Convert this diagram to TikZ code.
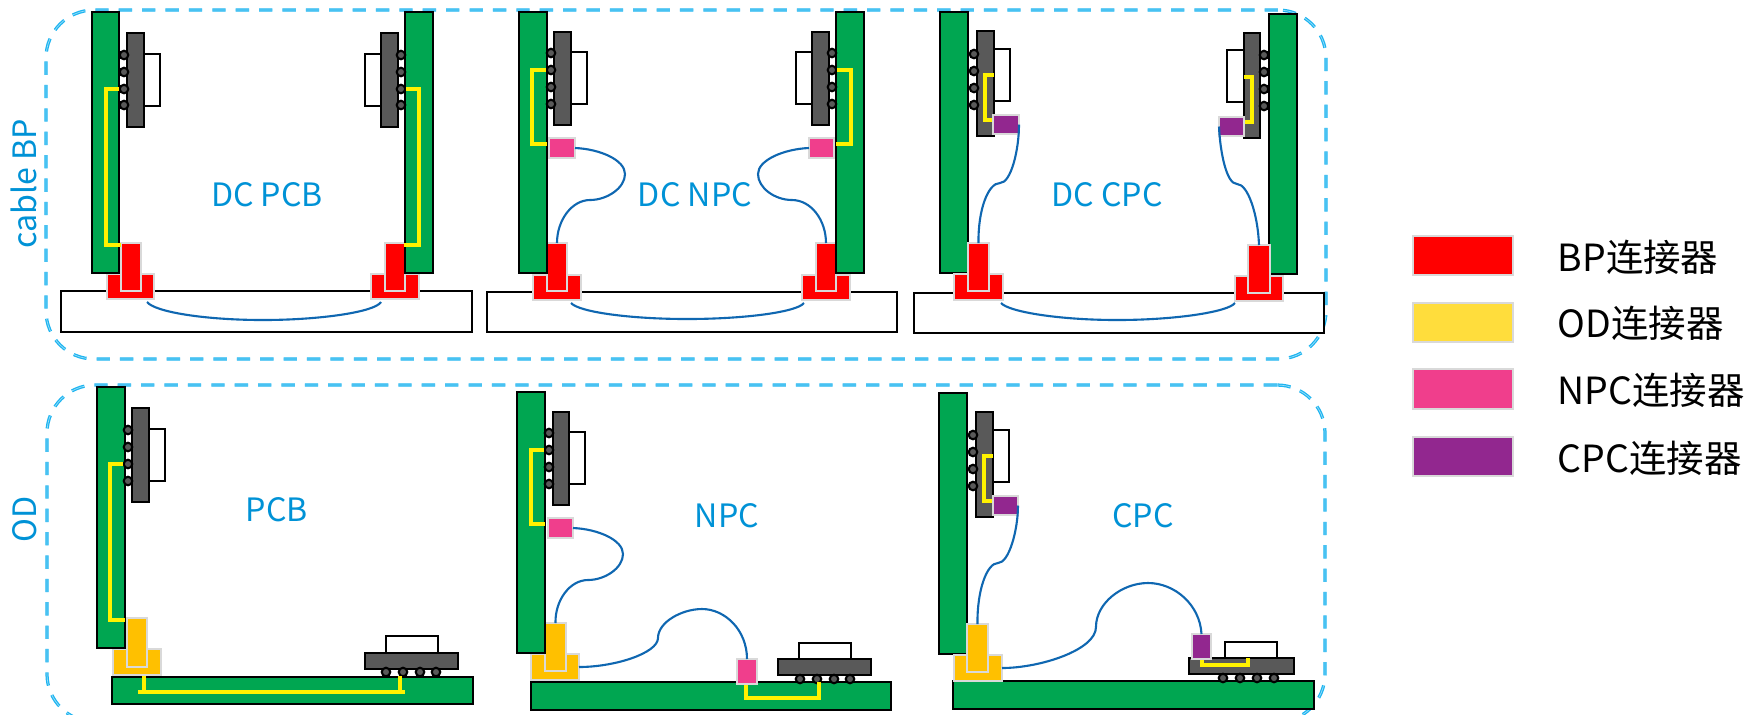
\documentclass[tikz,border=0pt]{standalone}
\usepackage{fontspec}
\setmainfont{Noto Sans CJK SC}
\usetikzlibrary{fit}
\definecolor{boardgreen}{HTML}{00A651}
\definecolor{chipgray}{HTML}{595959}
\definecolor{edgegray}{HTML}{D9D9D9}
\definecolor{bpred}{HTML}{FF0000}
\definecolor{odorange}{HTML}{FFC000}
\definecolor{odyellow}{HTML}{FFDD3C}
\definecolor{npcpink}{HTML}{F03E8C}
\definecolor{cpcpurple}{HTML}{92278F}
\definecolor{cableblue}{HTML}{0F67B1}
\definecolor{textblue}{HTML}{0092D6}
\definecolor{frameblue}{HTML}{1DB4F0}
\tikzset{
  block/.style={draw,inner sep=0pt,outer sep=0pt,line width=.6pt},
  board/.style={block,fill=boardgreen},
  backplane/.style={block,fill=white},
  chip/.style={block,fill=chipgray},
  die/.style={block,fill=white},
  ball/.style={circle,draw,fill=chipgray,inner sep=0pt,minimum size=.085cm,line width=.6pt},
  conn/.style={block,draw=edgegray},
  bpconn/.style={conn,fill=bpred},
  odconn/.style={conn,fill=odorange},
  odlegend/.style={conn,fill=odyellow},
  npcconn/.style={conn,fill=npcpink},
  cpcconn/.style={conn,fill=cpcpurple},
  cable/.style={draw=cableblue,line width=.6pt},
  trace/.style={draw=yellow,line width=1.05pt},
  frame/.style={draw=frameblue,inner sep=0pt,line width=.36pt,double=frameblue!45,double distance=.2pt,dash pattern=on 3.8pt off 2.85pt,rounded corners=.48cm},
  panellabel/.style={text=textblue,font=\fontsize{9.15}{11}\selectfont,inner sep=0pt},
  legendtext/.style={anchor=west,text=black,font=\fontsize{10.65}{13}\selectfont,inner sep=0pt}
}
\begin{document}
\begin{tikzpicture}[x=.01cm,y=-.01cm]
\clip (0,0) rectangle (1750,714);
\useasboundingbox (0,0) rectangle (1750,714);
\node[frame,fit={(46,10) (1326,359)}] (frameBP) {};
\node[frame,fit={(47,385) (1325,722)}] (frameOD) {};
\node[panellabel,rotate=90] (labelBP) at (24,184) {cable BP};
\node[panellabel,rotate=90] (labelOD) at (25,519) {OD};

\node[backplane,fit={(61,291) (472,332)}] (planeA) {};
\node[bpconn,fit={(107,274) (154,299)}] (baseAL) {};
\node[bpconn,fit={(121,243) (141,291)}] (stemAL) {};
\node[bpconn,fit={(371,274) (419,299)}] (baseAR) {};
\node[bpconn,fit={(385,243) (405,291)}] (stemAR) {};
\node[board,fit={(92,12) (119,273)}] (boardAL) {};
\node[board,fit={(405,12) (433,273)}] (boardAR) {};
\node[die,fit={(144,54) (160,106)}] (dieAL) {};
\node[chip,fit={(127,33) (144,127)}] (chipAL) {};
\node[die,fit={(365,54) (381,106)}] (dieAR) {};
\node[chip,fit={(381,33) (398,127)}] (chipAR) {};
\coordinate (padAL) at (121,245);
\coordinate (padAR) at (404,245);
\node[ball] (ballAL1) at (124,55) {}; \node[ball] (ballAL2) at (124,72) {}; \node[ball] (ballAL3) at (124,89) {}; \node[ball] (ballAL4) at (124,105) {};
\node[ball] (ballAR1) at (401,55) {}; \node[ball] (ballAR2) at (401,72) {}; \node[ball] (ballAR3) at (401,89) {}; \node[ball] (ballAR4) at (401,105) {};
\draw[trace] (ballAL3.west) -- (106,89) -- (106,245) -- (padAL);
\draw[trace] (ballAR3.east) -- (419,89) -- (419,245) -- (padAR);
\coordinate (pinAL) at (147,302);
\coordinate (pinAR) at (381,302);
\draw[cable] (pinAL) .. controls (155,312) and (205,320) .. (263,320) .. controls (320,320) and (375,312) .. (pinAR);
\node[panellabel] (textA) at (267,195) {DC PCB};

\node[backplane,fit={(487,292) (897,332)}] (planeB) {};
\node[bpconn,fit={(533,275) (581,300)}] (baseBL) {};
\node[bpconn,fit={(547,243) (567,291)}] (stemBL) {};
\node[bpconn,fit={(802,275) (850,300)}] (baseBR) {};
\node[bpconn,fit={(816,243) (836,291)}] (stemBR) {};
\node[board,fit={(519,12) (547,273)}] (boardBL) {};
\node[board,fit={(836,12) (864,273)}] (boardBR) {};
\node[die,fit={(571,52) (587,104)}] (dieBL) {};
\node[chip,fit={(554,32) (571,125)}] (chipBL) {};
\node[die,fit={(796,52) (812,104)}] (dieBR) {};
\node[chip,fit={(812,32) (829,125)}] (chipBR) {};
\node[ball] (ballBL1) at (551,53) {}; \node[ball] (ballBL2) at (551,70) {}; \node[ball] (ballBL3) at (551,87) {}; \node[ball] (ballBL4) at (551,104) {};
\node[ball] (ballBR1) at (832,53) {}; \node[ball] (ballBR2) at (832,70) {}; \node[ball] (ballBR3) at (832,87) {}; \node[ball] (ballBR4) at (832,104) {};
\node[npcconn,fit={(549,138) (575,158)}] (npcBL) {};
\node[npcconn,fit={(809,138) (834,158)}] (npcBR) {};
\coordinate (padBL) at (547,144);
\coordinate (padBR) at (836,144);
\draw[trace] (ballBL2.west) -- (532,70) -- (532,144) -- (padBL);
\draw[trace] (ballBR2.east) -- (851,70) -- (851,144) -- (padBR);
\draw[cable] (npcBL.east) .. controls (600,149) and (625,160) .. (625,174) .. controls (625,188) and (607,200) .. (590,200) .. controls (572,200) and (557,220) .. (stemBL.north);
\draw[cable] (npcBR.west) .. controls (784,149) and (758,160) .. (758,174) .. controls (758,188) and (775,200) .. (792,200) .. controls (811,200) and (826,220) .. (stemBR.north);
\coordinate (pinBL) at (571,303);
\coordinate (pinBR) at (804,303);
\draw[cable] (pinBL) .. controls (579,312) and (630,319) .. (687,319) .. controls (745,319) and (797,312) .. (pinBR);
\node[panellabel] (textB) at (695,195) {DC NPC};

\node[backplane,fit={(914,293) (1324,333)}] (planeC) {};
\node[board,fit={(940,12) (968,273)}] (boardCL) {};
\node[board,fit={(1269,14) (1297,274)}] (boardCR) {};
\node[bpconn,fit={(954,274) (1003,300)}] (baseCL) {};
\node[bpconn,fit={(968,243) (989,291)}] (stemCL) {};
\node[bpconn,fit={(1235,276) (1283,301)}] (baseCR) {};
\node[bpconn,fit={(1248,245) (1270,293)}] (stemCR) {};
\node[die,fit={(994,49) (1010,101)}] (dieCL) {};
\node[chip,fit={(977,31) (994,136)}] (chipCL) {};
\node[die,fit={(1227,50) (1244,102)}] (dieCR) {};
\node[chip,fit={(1244,33) (1260,138)}] (chipCR) {};
\node[ball] (ballCL1) at (974,54) {}; \node[ball] (ballCL2) at (974,71) {}; \node[ball] (ballCL3) at (974,88) {}; \node[ball] (ballCL4) at (974,105) {};
\node[ball] (ballCR1) at (1264,55) {}; \node[ball] (ballCR2) at (1264,72) {}; \node[ball] (ballCR3) at (1264,89) {}; \node[ball] (ballCR4) at (1264,106) {};
\coordinate (padCL1) at (994,75);
\coordinate (padCL2) at (994,120);
\coordinate (padCR1) at (1244,77);
\coordinate (padCR2) at (1244,122);
\draw[trace] (padCL1) -- (985,75) -- (985,120) -- (padCL2);
\draw[trace] (padCR1) -- (1252,77) -- (1252,122) -- (padCR2);
\node[cpcconn,fit={(993,115) (1019,134)}] (cpcCL) {};
\node[cpcconn,fit={(1219,117) (1244,136)}] (cpcCR) {};
\draw[cable] (cpcCL.east) .. controls (1019,150) and (1011,183) .. (1000,183) .. controls (988,183) and (978,210) .. (stemCL.north);
\draw[cable] (cpcCR.west) .. controls (1220,150) and (1226,184) .. (1237,184) .. controls (1248,184) and (1258,215) .. (stemCR.north);
\coordinate (pinCL) at (1001,303);
\coordinate (pinCR) at (1235,303);
\draw[cable] (pinCL) .. controls (1009,312) and (1060,320) .. (1117,320) .. controls (1175,320) and (1228,312) .. (pinCR);
\node[panellabel] (textC) at (1107,195) {DC CPC};

\node[odconn,fit={(113,649) (161,675)}] (baseD) {};
\node[odconn,fit={(127,618) (147,667)}] (stemD) {};
\node[board,fit={(97,387) (125,648)}] (boardDV) {};
\node[board,fit={(112,677) (473,704)}] (boardDH) {};
\node[die,fit={(149,429) (165,481)}] (dieDV) {};
\node[chip,fit={(132,408) (149,502)}] (chipDV) {};
\node[ball] (ballDV1) at (128,430) {}; \node[ball] (ballDV2) at (128,447) {}; \node[ball] (ballDV3) at (128,464) {}; \node[ball] (ballDV4) at (128,481) {};
\node[die,fit={(386,636) (438,653)}] (dieDH) {};
\node[chip,fit={(365,653) (458,669)}] (chipDH) {};
\node[ball] (ballDH1) at (386,672) {}; \node[ball] (ballDH2) at (403,672) {}; \node[ball] (ballDH3) at (420,672) {}; \node[ball] (ballDH4) at (436,672) {};
\coordinate (padD) at (125,620);
\coordinate (padDH1) at (144,676);
\coordinate (padDH2) at (400,676);
\draw[trace] (ballDV3.west) -- (110,464) -- (110,620) -- (padD);
\draw[trace] (padDH1) -- (144,692);
\draw[trace] (padDH2) -- (400,692);
\draw[trace] (138,692) -- (405,692);
\node[panellabel] (textD) at (277,510) {PCB};

\node[odconn,fit={(531,654) (579,680)}] (baseE) {};
\node[odconn,fit={(545,623) (566,671)}] (stemE) {};
\node[board,fit={(517,392) (545,653)}] (boardEV) {};
\node[board,fit={(531,682) (891,710)}] (boardEH) {};
\node[die,fit={(569,432) (585,484)}] (dieEV) {};
\node[chip,fit={(553,412) (569,505)}] (chipEV) {};
\node[ball] (ballEV1) at (549,433) {}; \node[ball] (ballEV2) at (549,450) {}; \node[ball] (ballEV3) at (549,467) {}; \node[ball] (ballEV4) at (549,484) {};
\node[die,fit={(799,643) (851,659)}] (dieEH) {};
\node[chip,fit={(778,659) (871,675)}] (chipEH) {};
\node[ball] (ballEH1) at (800,679) {}; \node[ball] (ballEH2) at (817,679) {}; \node[ball] (ballEH3) at (834,679) {}; \node[ball] (ballEH4) at (850,679) {};
\node[npcconn,fit={(548,518) (573,538)}] (npcEV) {};
\coordinate (padE) at (545,524);
\draw[trace] (ballEV2.west) -- (531,450) -- (531,524) -- (padE);
\coordinate (padEH) at (819,682);
\draw[trace] (746,682) -- (746,698) -- (819,698) -- (padEH);
\node[npcconn,fit={(737,659) (757,684)}] (npcEH) {};
\draw[cable] (npcEV.east) .. controls (598,529) and (623,540) .. (623,554) .. controls (623,568) and (605,580) .. (588,580) .. controls (570,580) and (555,600) .. (stemE.north);
\draw[cable] (baseE.east) .. controls (615,667) and (658,653) .. (658,638) .. controls (658,622) and (682,609) .. (702,609) .. controls (725,609) and (747,630) .. (npcEH.north);
\node[panellabel] (textE) at (727,516) {NPC};

\node[board,fit={(939,393) (967,654)}] (boardFV) {};
\node[board,fit={(953,681) (1314,709)}] (boardFH) {};
\node[odconn,fit={(954,655) (1002,681)}] (baseF) {};
\node[odconn,fit={(967,624) (988,672)}] (stemF) {};
\node[die,fit={(993,430) (1009,482)}] (dieFV) {};
\node[chip,fit={(976,412) (993,517)}] (chipFV) {};
\node[ball] (ballFV1) at (973,435) {}; \node[ball] (ballFV2) at (973,452) {}; \node[ball] (ballFV3) at (973,469) {}; \node[ball] (ballFV4) at (973,486) {};
\node[die,fit={(1225,642) (1277,658)}] (dieFH) {};
\node[chip,fit={(1189,658) (1294,674)}] (chipFH) {};
\node[ball] (ballFH1) at (1223,678) {}; \node[ball] (ballFH2) at (1240,678) {}; \node[ball] (ballFH3) at (1257,678) {}; \node[ball] (ballFH4) at (1274,678) {};
\coordinate (padFV1) at (993,456);
\coordinate (padFV2) at (993,501);
\coordinate (padFH) at (1248,658);
\draw[trace] (padFV1) -- (984,456) -- (984,501) -- (padFV2);
\draw[trace] (1202,659) -- (1202,665) -- (1248,665) -- (padFH);
\node[cpcconn,fit={(993,496) (1018,515)}] (cpcFV) {};
\node[cpcconn,fit={(1192,634) (1211,659)}] (cpcFH) {};
\draw[cable] (cpcFV.east) .. controls (1018,530) and (1009,563) .. (998,563) .. controls (987,563) and (977,590) .. (stemF.north);
\draw[cable] (baseF.east) .. controls (1040,668) and (1096,650) .. (1096,627) .. controls (1096,603) and (1122,583) .. (1148,583) .. controls (1175,583) and (1200,605) .. (cpcFH.north);
\node[panellabel] (textF) at (1143,516) {CPC};

\node[bpconn,fit={(1413,236) (1513,275)}] (keyBP) {};
\node[odlegend,fit={(1413,303) (1513,342)}] (keyOD) {};
\node[npcconn,fit={(1413,369) (1513,409)}] (keyNPC) {};
\node[cpcconn,fit={(1413,437) (1513,476)}] (keyCPC) {};
\node[legendtext] (textBP) at (1557,257) {BP连接器};
\node[legendtext] (textOD) at (1557,323) {OD连接器};
\node[legendtext] (textNPC) at (1557,390) {NPC连接器};
\node[legendtext] (textCPC) at (1557,458) {CPC连接器};
\end{tikzpicture}
\end{document}
